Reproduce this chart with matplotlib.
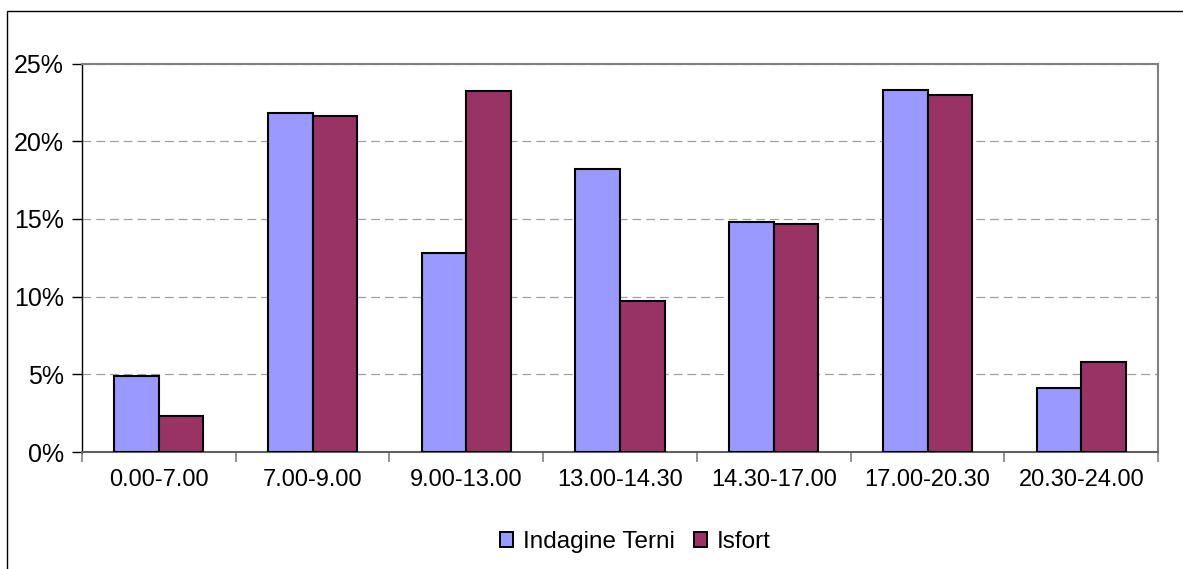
import numpy as np
import matplotlib.pyplot as plt
from matplotlib.patches import Rectangle
from matplotlib.ticker import FuncFormatter

# fasce orarie and share of trips per fascia
fasce = ["0.00-7.00", "7.00-9.00", "9.00-13.00", "13.00-14.30",
         "14.30-17.00", "17.00-20.30", "20.30-24.00"]
terni = [4.9, 21.8, 12.8, 18.2, 14.8, 23.3, 4.1]
isfort = [2.3, 21.6, 23.2, 9.7, 14.7, 23.0, 5.8]

plt.rcParams['font.family'] = ['Liberation Sans', 'DejaVu Sans']

fig = plt.figure(figsize=(11.83, 5.69), dpi=100)
ax = fig.add_axes([0.0693, 0.2056, 0.9097, 0.6828])

# outer chart frame (left and top edges visible)
fig.patches.append(Rectangle((7 / 1183, -0.05), 1.1, 1 - 11 / 569 + 0.05,
                             transform=fig.transFigure, fill=False,
                             edgecolor='black', linewidth=1.0))

x = np.arange(len(fasce))
w = 0.29
ax.bar(x - w / 2, terni, w, color='#9999FF', edgecolor='black',
       linewidth=1.5, label='Indagine Terni', zorder=3)
ax.bar(x + w / 2, isfort, w, color='#993366', edgecolor='black',
       linewidth=1.5, label='Isfort', zorder=3)

ax.set_xlim(-0.5, len(fasce) - 0.5)
ax.set_ylim(0, 25)
ax.set_yticks([0, 5, 10, 15, 20, 25])
ax.yaxis.set_major_formatter(FuncFormatter(lambda v, _: f"{v:.0f}%"))
ax.grid(axis='y', color='#a0a0a0', linestyle=(0, (7, 4)), linewidth=0.9, zorder=0)

# category labels centred, tick marks between categories
ax.set_xticks(np.arange(len(fasce) + 1) - 0.5)
ax.set_xticklabels([])
ax.set_xticks(x, minor=True)
ax.set_xticklabels(fasce, minor=True)
ax.tick_params(axis='x', which='minor', length=0, pad=12, labelsize=17)
ax.tick_params(axis='x', which='major', length=7, width=1.2, color='#808080', direction='out')
ax.tick_params(axis='y', length=7, width=1.0, direction='out', labelsize=18, pad=6)

for side in ('top', 'right'):
    ax.spines[side].set_color('#808080')
    ax.spines[side].set_linewidth(1.5)
ax.spines['left'].set_color('black')
ax.spines['bottom'].set_color('#606060')
ax.spines['left'].set_linewidth(1.0)
ax.spines['bottom'].set_linewidth(1.5)

leg = fig.legend(loc='center', bbox_to_anchor=(0.537, 1 - 542 / 569), ncol=2,
                 frameon=False, fontsize=17.5, handlelength=0.55, handleheight=0.55,
                 handletextpad=0.4, columnspacing=0.8)
for h in leg.legend_handles:
    h.set_linewidth(1.4)

fig.savefig('out.png', dpi=100)
